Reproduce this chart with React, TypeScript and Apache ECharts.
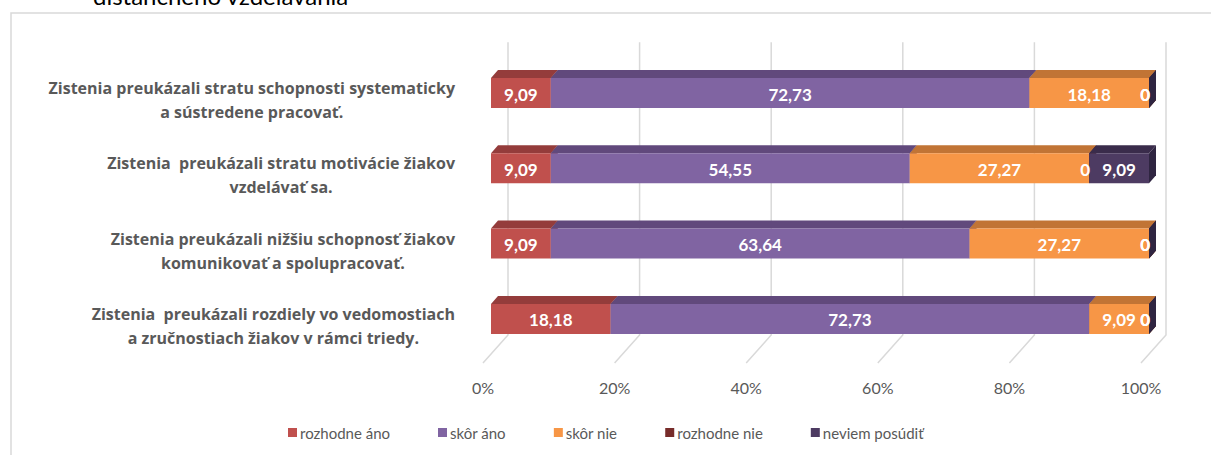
import { useEffect, useRef } from "react";
import * as echarts from "echarts";

const categories = [
  "Zistenia preukázali stratu schopnosti systematicky\na sústredene pracovať.",
  "Zistenia  preukázali stratu motivácie žiakov\nvzdelávať sa.",
  "Zistenia preukázali nižšiu schopnosť žiakov\nkomunikovať a spolupracovať.",
  "Zistenia  preukázali rozdiely vo vedomostiach\na zručnostiach žiakov v rámci triedy.",
];
const seriesNames = ["rozhodne áno", "skôr áno", "skôr nie", "rozhodne nie", "neviem posúdiť"];
const rozhodneAno = [9.09, 9.09, 9.09, 18.18];
const skorAno = [72.73, 54.55, 63.64, 72.73];
const skorNie = [18.18, 27.27, 27.27, 9.09];
const rozhodneNie = [0, 0, 0, 0];
const neviemPosudit = [0, 9.09, 0, 0];
const xTicks = [0, 20, 40, 60, 80, 100];
const titleTail = "dištančného vzdelávania";

const frontColors = ["#C0504D", "#8064A2", "#F79646", "#772C2A", "#4D3B62"];
const topColors = ["#943C3B", "#61497C", "#C17435", "#5A1F1E", "#3A2C4B"];
const sideColors = ["#7E3231", "#523E6A", "#A9622B", "#4A1918", "#2F2541"];

const FONT = "Lato, 'Open Sans', sans-serif";
const LABEL_FONT = "'Open Sans', Lato, sans-serif";

function fmt(v: number): string {
  return String(v).replace(".", ",");
}

export default function App() {
  const ref = useRef<HTMLDivElement>(null);
  useEffect(() => {
    if (!ref.current) return;
    const chart = echarts.init(ref.current, undefined, { renderer: "svg" });
    const values = [rozhodneAno, skorAno, skorNie, rozhodneNie, neviemPosudit];
    const barH = 30;
    const dx = 7;
    const dy = 8;

    const barSeries = seriesNames.map((name, s) => {
      const data = categories.map((_, i) => {
        let start = 0;
        for (let k = 0; k < s; k++) start += values[k][i];
        const v = values[s][i];
        return [start, start + v, i, v];
      });
      return {
        type: "custom",
        name,
        xAxisIndex: 0,
        yAxisIndex: 0,
        z: 3,
        itemStyle: { color: frontColors[s] },
        encode: { x: [0, 1], y: 2 },
        data,
        renderItem: (params: any, api: any) => {
          const start = api.value(0);
          const end = api.value(1);
          const cat = api.value(2);
          const v = api.value(3);
          const p0 = api.coord([start, cat]);
          const p1 = api.coord([end, cat]);
          const x0 = p0[0];
          const x1 = p1[0];
          const y0 = p0[1] - barH / 2;
          const y1 = y0 + barH;
          return {
            type: "group",
            children: [
              {
                type: "polygon",
                shape: { points: [[x1, y0], [x1 + dx, y0 - dy], [x1 + dx, y1 - dy], [x1, y1]] },
                style: { fill: sideColors[s] },
              },
              {
                type: "polygon",
                shape: { points: [[x0, y0], [x1, y0], [x1 + dx, y0 - dy], [x0 + dx, y0 - dy]] },
                style: { fill: topColors[s] },
              },
              {
                type: "rect",
                shape: { x: x0, y: y0, width: x1 - x0, height: barH },
                style: { fill: frontColors[s] },
              },
              {
                type: "text",
                z2: 100,
                x: v === 0 ? x1 + 1 : (x0 + x1) / 2,
                y: (y0 + y1) / 2 + 1,
                style: {
                  text: fmt(v),
                  fill: "#FFFFFF",
                  fontFamily: FONT,
                  fontWeight: "bold",
                  fontSize: 17,
                  align: v === 0 ? "right" : "center",
                  verticalAlign: "middle",
                },
              },
            ],
          };
        },
      };
    });

    const gridSeries = {
      type: "custom",
      name: "mriežka",
      xAxisIndex: 0,
      yAxisIndex: 0,
      z: 1,
      silent: true,
      encode: { x: 0, y: 1 },
      data: xTicks.map((t) => [t, 0]),
      renderItem: (params: any, api: any) => {
        const cs = params.coordSys;
        const x = api.coord([api.value(0), 0])[0];
        const top = cs.y;
        const bottom = cs.y + cs.height;
        return {
          type: "polyline",
          shape: {
            points: [
              [x + 17, top - 13],
              [x + 17, bottom - 21.6],
              [x - 8, bottom + 6.4],
            ],
          },
          style: { stroke: "#D9D9D9", lineWidth: 1.5, fill: "none" },
        };
      },
    };

    chart.setOption({
      animation: false,
      backgroundColor: "#FFFFFF",
      textStyle: { fontFamily: FONT },
      graphic: [
        {
          type: "rect",
          shape: { x: 11, y: 13, width: 1400, height: 600 },
          style: { fill: "none", stroke: "#D9D9D9", lineWidth: 1.5 },
          silent: true,
        },
        {
          type: "text",
          x: 93,
          y: -5,
          style: {
            text: titleTail,
            fill: "#000000",
            fontFamily: FONT,
            fontSize: 24,
            verticalAlign: "middle",
            align: "left",
          },
          silent: true,
        },
      ],
      legend: {
        data: seriesNames,
        left: 283,
        top: 420,
        icon: "rect",
        itemWidth: 9,
        itemHeight: 9,
        itemGap: 48,
        textStyle: { fontFamily: FONT, fontSize: 15, color: "#595959", padding: [0, 0, 0, -2] },
      },
      grid: [
        { left: 491, width: 658, top: 55.35, height: 301.2, containLabel: false },
        { left: 483, width: 658, top: 55, height: 308, containLabel: false },
      ],
      xAxis: [
        { type: "value", gridIndex: 0, min: 0, max: 100, interval: 20, show: false },
        {
          type: "value",
          gridIndex: 1,
          min: 0,
          max: 100,
          interval: 20,
          axisLine: { show: false },
          axisTick: { show: false },
          splitLine: { show: false },
          axisLabel: {
            formatter: "{value}%",
            fontFamily: FONT,
            fontSize: 16,
            color: "#595959",
            margin: 16,
            showMinLabel: true,
            showMaxLabel: true,
          },
        },
      ],
      yAxis: [
        {
          type: "category",
          gridIndex: 0,
          inverse: true,
          data: categories,
          axisLine: { show: false },
          axisTick: { show: false },
          splitLine: { show: false },
          axisLabel: {
            interval: 0,
            align: "right",
            margin: 36,
            padding: [14, 0, 0, 0],
            formatter: (val: string) =>
              val
                .split("\n")
                .map((l) => `{c|${l}}`)
                .join("\n"),
            rich: {
              c: {
                align: "center",
                fontFamily: LABEL_FONT,
                fontWeight: "bold",
                fontSize: 16,
                color: "#595959",
                lineHeight: 24,
              },
            },
          },
        },
        { type: "category", gridIndex: 1, data: [""], show: false },
      ],
      series: [gridSeries, ...barSeries],
    });
    return () => chart.dispose();
  }, []);
  return (
    <div
      ref={ref}
      style={{ position: "fixed", left: 0, top: 0, width: 1211, height: 455 }}
    />
  );
}
